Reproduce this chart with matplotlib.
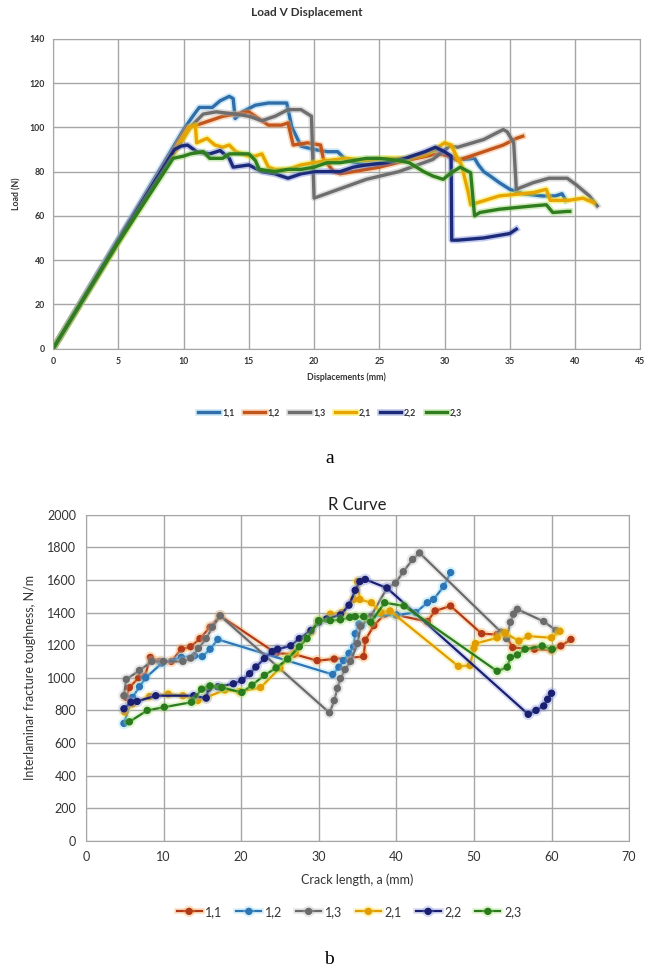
import matplotlib
matplotlib.use("Agg")
import matplotlib.pyplot as plt
import matplotlib.patheffects as pe

# ---- data: Load V Displacement (x in mm, y in N) ----
series_names = ["1,1", "1,2", "1,3", "2,1", "2,2", "2,3"]

load_x11 = [0, 5, 10, 10.7, 11.2, 12.2, 12.8, 13.5, 13.8, 13.95, 14.5, 15.5, 16.5, 17.5, 17.9, 18.3,
            19.0, 20.0, 21.0, 21.8, 22.5, 24.0, 26.0, 28.0, 29.5, 30.0, 30.5, 31.5, 32.3, 32.6, 33.0,
            33.5, 34.2, 35.0, 36.0, 37.5, 38.5, 39.0, 39.3]
load_y11 = [0, 49.5, 99, 105, 109, 109, 112, 114, 113, 104, 107, 110, 111, 111, 111, 100,
            91.5, 90, 89, 89, 85, 83, 84, 87, 90, 88, 86, 85.5, 86, 83, 80,
            78, 75, 72, 70, 69, 69, 70, 67]

load_x12 = [0, 5, 10.3, 11, 12, 13, 14, 15, 16, 16.5, 17.5, 18.0, 18.4, 19.5, 20.5, 20.7, 21.5, 22,
            23, 25, 27, 29.5, 30.5, 31, 32, 33, 34.5, 35.5, 36]
load_y12 = [0, 48.5, 100, 101, 103, 105, 106, 107, 103, 101, 101, 102, 92, 93, 92, 86, 80, 79,
            80, 82, 85, 88, 87, 85, 87, 89, 92, 95, 96]

load_x13 = [0, 5, 10.5, 11.5, 12.5, 14, 15, 16, 17, 18, 19, 19.8, 20.0, 24, 26.5, 29.1, 30.4, 31,
            33, 34.5, 34.8, 35.3, 35.5, 36.8, 38, 39.4, 40.1, 41.1, 41.7]
load_y13 = [0, 49, 100, 106, 107, 106, 105, 103, 105, 108, 108, 105, 68, 76.5, 80, 85.5, 91.5, 91,
            94.5, 99, 98, 93, 72, 75, 77, 77, 74, 69, 64.5]

load_x21 = [0, 5, 10.5, 10.9, 11.0, 11.8, 12.4, 13.0, 13.5, 14.0, 15.0, 15.5, 16.0, 16.5, 17.0, 18.0,
            19.0, 20.0, 21.0, 22.5, 24, 25.5, 27, 28.5, 29.5, 30.0, 30.5, 31.0, 31.3, 31.8, 32.0,
            34.2, 36.8, 37.8, 38.1, 39.5, 40.6, 41.4]
load_y21 = [0, 48, 100, 101, 93, 95, 92, 91, 92, 89, 87, 87, 88, 82, 81, 81,
            83, 84, 85, 86, 85, 86, 86, 88, 91, 93, 92, 86, 83, 71, 65,
            69, 70.5, 72, 67, 67, 68, 66]

load_x22 = [0, 5, 9.3, 9.8, 10.3, 11, 12, 12.8, 13.5, 13.8, 15, 16, 17, 18, 19, 20, 22, 23, 24,
            25.5, 27, 28.5, 29.3, 30, 30.5, 30.55, 31, 33, 34, 35, 35.5]
load_y22 = [0, 49, 90, 91.5, 92, 89, 88, 89.5, 86, 82, 83, 80, 79, 77, 79, 80, 80, 82, 83,
            84, 86, 89, 91, 89, 87, 49, 49, 50, 51, 52, 54]

load_x23 = [0, 5, 9.2, 10, 10.5, 11.5, 12, 13, 13.5, 15, 15.5, 15.8, 17, 18, 19, 20, 21, 22, 24, 25,
            26.5, 27.3, 28.4, 29.1, 29.9, 30.4, 31.2, 32.0, 32.3, 32.7, 34.2, 36.8, 37.8, 38.3,
            39.4, 39.6]
load_y23 = [0, 48, 86, 87, 88, 89, 86, 86, 88, 88, 85, 81, 80, 81, 81, 82, 84, 84, 86, 86,
            85, 84, 80, 78, 76.5, 79, 82, 79.5, 60, 61.5, 63, 64.5, 65, 61.5,
            62, 62]

# ---- data: R Curve (crack length mm, toughness N/m) ----
r_x11 = [5.2, 5.6, 6.8, 7.6, 8.3, 9.5, 11, 12.3, 13.5, 14.7, 16, 17.3, 24.5, 26.8, 29.8, 32,
         35.8, 36, 37.1, 38.5, 40, 44, 45, 47, 51, 53, 54, 55, 57.8, 60, 61.2, 62.5]
r_y11 = [880, 940, 1000, 1010, 1125, 1100, 1100, 1175, 1190, 1240, 1310, 1380, 1150, 1145, 1105, 1115,
         1130, 1230, 1320, 1390, 1385, 1345, 1410, 1440, 1270, 1265, 1270, 1185, 1175, 1170, 1195, 1235]

r_x12 = [4.9, 6.0, 6.9, 7.7, 9.8, 12.3, 14, 15, 16, 17, 31.8, 32.6, 33.2, 33.9, 34.5, 34.7, 35.2,
         35.5, 37, 40, 42.5, 44, 44.8, 46.1, 47]
r_y12 = [720, 880, 945, 1000, 1090, 1125, 1135, 1130, 1175, 1235, 1020, 1065, 1105, 1150, 1190, 1270, 1330,
         1320, 1380, 1385, 1400, 1460, 1480, 1560, 1645]

r_x13 = [4.9, 5.2, 6.9, 8.5, 10, 12.5, 13.5, 14.5, 15.5, 16.3, 17.3, 31.4, 32, 32.4, 32.8, 33.4,
         34.1, 35, 35.4, 36.7, 38.8, 39.9, 40.9, 42.1, 43, 53.5, 54.2, 54.7, 55.1, 55.6, 59, 60.6]
r_y13 = [890, 990, 1045, 1100, 1100, 1100, 1120, 1180, 1240, 1310, 1380, 785, 860, 935, 995, 1050,
         1100, 1210, 1315, 1375, 1550, 1580, 1650, 1725, 1765, 1280, 1240, 1340, 1390, 1420, 1345, 1290]

r_x21 = [5, 6, 8.2, 10.6, 12.5, 14.4, 15.5, 17.9, 19.8, 22.5, 25, 26, 27, 29, 30, 31.5, 33, 34.5,
         35, 35.3, 36.8, 38, 39.2, 48, 49.5, 50, 50.2, 53, 54, 55.8, 57, 60, 61.1]
r_y21 = [790, 840, 885, 900, 890, 860, 880, 925, 915, 940, 1060, 1120, 1160, 1280, 1350, 1390, 1400, 1480,
         1590, 1480, 1460, 1400, 1410, 1070, 1075, 1180, 1210, 1245, 1275, 1225, 1255, 1245, 1285]

r_x22 = [4.9, 5.8, 6.6, 9, 13.9, 15.5, 15.8, 17, 19, 20.1, 21.1, 21.9, 23, 24, 24.7, 26.4, 27.5, 29,
         30, 31, 32.8, 33.9, 34.7, 35.3, 36, 38.8, 57, 58, 59, 59.5, 60]
r_y22 = [810, 850, 855, 890, 890, 875, 935, 945, 963, 984, 1025, 1066, 1118, 1160, 1175, 1196, 1240, 1290,
         1340, 1360, 1385, 1445, 1536, 1590, 1603, 1550, 776, 800, 827, 868, 905]

r_x23 = [5.6, 7.9, 10.1, 13.6, 14.9, 16, 17.5, 20.1, 21.4, 23, 24.5, 26, 27.5, 28.5, 30, 31.5, 32.8,
         34, 34.7, 35.8, 36.7, 38.5, 41, 53, 54.3, 54.7, 55.6, 56.6, 58.8, 60.1]
r_y23 = [730, 800, 820, 850, 930, 950, 940, 910, 955, 1015, 1060, 1115, 1190, 1240, 1350, 1350, 1355,
         1370, 1375, 1375, 1340, 1460, 1440, 1040, 1065, 1125, 1140, 1175, 1195, 1175]

load_x = [load_x11, load_x12, load_x13, load_x21, load_x22, load_x23]
load_y = [load_y11, load_y12, load_y13, load_y21, load_y22, load_y23]
r_x = [r_x11, r_x12, r_x13, r_x21, r_x22, r_x23]
r_y = [r_y11, r_y12, r_y13, r_y21, r_y22, r_y23]

# colours
top_colors = ["#2f6ea8", "#c2561c", "#6e6e6e", "#e8a400", "#1c2a7a", "#2f7d1f"]
top_halo = ["#7fc3e8", "#f0a060", "#b0b0b0", "#f5e800", "#6a7ad0", "#8fd060"]
bot_colors = ["#b23a1a", "#2e75b6", "#6b6b6b", "#e09c00", "#1a1f70", "#2a7a1e"]
bot_halo = ["#f5a040", "#8fd8f0", "#b8b8b8", "#f8e040", "#8090d8", "#a0e070"]

grid_col = "#a6a6a6"
txt_col = "#333333"
font = "Lato"

fig = plt.figure(figsize=(6.56, 9.71), dpi=100)

# ---------------- top chart ----------------
ax1 = fig.add_axes([0.081, 0.641, 0.895, 0.319])
for i in range(6):
    ax1.plot(load_x[i], load_y[i], color=top_colors[i], lw=2.4, label=series_names[i],
             solid_joinstyle="round",
             path_effects=[pe.Stroke(linewidth=4.8, foreground=top_halo[i], alpha=0.4), pe.Normal()])
ax1.set_xlim(0, 45)
ax1.set_ylim(0, 140)
ax1.set_xticks(range(0, 46, 5))
ax1.set_yticks(range(0, 141, 20))
ax1.grid(True, color=grid_col, lw=1.0)
ax1.set_axisbelow(True)
for s in ax1.spines.values():
    s.set_color(grid_col)
ax1.tick_params(length=0, pad=6, labelsize=6.3, labelcolor=txt_col)
for lab in ax1.get_xticklabels() + ax1.get_yticklabels():
    lab.set_fontfamily(font)
    lab.set_fontweight("bold")
ax1.set_xlabel("Displacements (mm)", fontsize=6.3, fontweight="bold", family=font,
               color=txt_col, labelpad=5)
ax1.set_ylabel("Load (N)", fontsize=6.3, fontweight="bold", family=font, color=txt_col, labelpad=6)
fig.text(0.468, 0.987, "Load V Displacement", ha="center", va="center", fontsize=8.5,
         fontweight="bold", family=font, color=txt_col)
leg1 = fig.legend(*ax1.get_legend_handles_labels(), loc="center", bbox_to_anchor=(0.503, 0.575),
                  ncol=6, frameon=False, handlelength=2.4, handletextpad=0.3, columnspacing=1.1,
                  prop={"family": font, "weight": "bold", "size": 6.3})
for t in leg1.get_texts():
    t.set_color(txt_col)
fig.text(0.502, 0.528, "a", ha="center", va="center", fontsize=14, family="Liberation Serif")

# ---------------- bottom chart ----------------
ax2 = fig.add_axes([0.131, 0.134, 0.828, 0.336])
for i in range(6):
    ax2.plot(r_x[i], r_y[i], color=bot_colors[i], lw=1.6, marker="o", ms=4.3,
             label=series_names[i],
             path_effects=[pe.Stroke(linewidth=4.2, foreground=bot_halo[i], alpha=0.3), pe.Normal()])
ax2.set_xlim(0, 70)
ax2.set_ylim(0, 2000)
ax2.set_xticks(range(0, 71, 10))
ax2.set_yticks(range(0, 2001, 200))
ax2.grid(True, color=grid_col, lw=1.0)
ax2.set_axisbelow(True)
for s in ax2.spines.values():
    s.set_color(grid_col)
ax2.tick_params(length=0, pad=7, labelsize=9, labelcolor=txt_col)
for lab in ax2.get_xticklabels() + ax2.get_yticklabels():
    lab.set_fontfamily(font)
ax2.set_xlabel("Crack length, a (mm)", fontsize=9, family=font, color=txt_col, labelpad=8)
ax2.set_ylabel("Interlaminar fracture toughness, N/m", fontsize=9, family=font,
               color=txt_col, labelpad=8)
ax2.set_title("R Curve", fontsize=12, family=font, color="#202020", pad=3)
leg2 = fig.legend(*ax2.get_legend_handles_labels(), loc="center", bbox_to_anchor=(0.532, 0.061),
                  ncol=6, frameon=False, handlelength=2.0, handletextpad=0.3, columnspacing=1.1,
                  prop={"family": font, "size": 9})
for t in leg2.get_texts():
    t.set_color(txt_col)
fig.text(0.502, 0.012, "b", ha="center", va="center", fontsize=14, family="Liberation Serif")

fig.savefig("out.png", dpi=100)
